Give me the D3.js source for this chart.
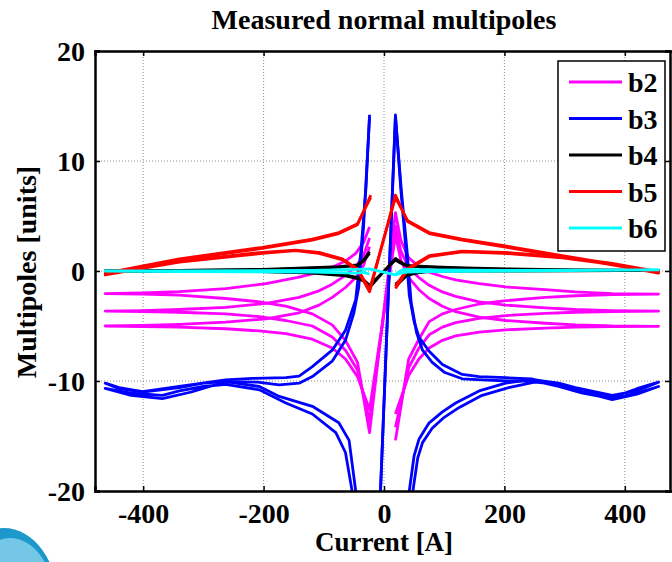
<!DOCTYPE html>
<html>
<head>
<meta charset="utf-8">
<script src="https://d3js.org/d3.v7.min.js"></script>
<style>
  body { margin: 0; background: #fff; }
  text { font-family: "Liberation Serif", "Times New Roman", serif; font-weight: bold; }
</style>
</head>
<body>
<div id="chart"></div>
<script>
// tick labels
var xTicks = [-400, -200, 0, 200, 400];
var yTicks = [-20, -10, 0, 10, 20];
var seriesNames = ["b2", "b3", "b4", "b5", "b6"];

// measured loops, [current A, multipole units]; each loop: up+, down+, up-, down-
var b2Loops = [
  [[19,-15.4],[41,-8.0],[58,-6.2],[75,-4.6],[97,-3.9],[119,-3.5],[158,-3.0],[202,-2.7],[268,-2.4],[318,-2.25],[379,-2.15],[456,-2.1],
   [379,-2.05],[318,-1.9],[268,-1.7],[202,-1.45],[158,-1.15],[119,-0.8],[97,-0.5],[75,-0.1],[58,0.4],[41,1.2],[28,2.8],[19,5.3],
   [-24,-14.7],[-44,-8.3],[-64,-6.3],[-86,-4.9],[-119,-3.9],[-163,-3.2],[-207,-2.8],[-263,-2.5],[-340,-2.2],[-401,-2.1],[-463,-2.06],
   [-401,-2.0],[-340,-1.88],[-263,-1.6],[-196,-1.15],[-141,-0.55],[-108,-0.1],[-86,0.35],[-64,0.9],[-47,1.6],[-34,2.6],[-24,4.0]],
  [[19,-14.2],[41,-8.8],[58,-7.0],[75,-5.8],[97,-5.1],[119,-4.7],[158,-4.3],[202,-4.05],[268,-3.85],[318,-3.75],[379,-3.68],[456,-3.65],
   [379,-3.6],[318,-3.5],[268,-3.35],[202,-3.1],[158,-2.8],[119,-2.3],[97,-1.9],[75,-1.3],[58,-0.6],[41,0.3],[28,1.8],[19,4.1],
   [-24,-13.6],[-44,-9.0],[-64,-7.2],[-86,-6.0],[-119,-5.0],[-163,-4.5],[-207,-4.15],[-263,-3.9],[-340,-3.75],[-401,-3.68],[-463,-3.64],
   [-401,-3.6],[-340,-3.5],[-263,-3.3],[-196,-2.95],[-141,-2.4],[-108,-1.8],[-86,-1.2],[-64,-0.4],[-47,0.4],[-34,1.4],[-24,3.0]],
  [[19,-13.0],[41,-9.5],[58,-8.0],[75,-7.0],[97,-6.3],[119,-5.9],[158,-5.55],[202,-5.35],[268,-5.2],[318,-5.1],[379,-5.05],[456,-5.03],
   [379,-5.0],[318,-4.9],[268,-4.75],[202,-4.5],[158,-4.2],[119,-3.7],[97,-3.2],[75,-2.5],[58,-1.7],[41,-0.6],[28,1.0],[19,3.2],
   [-24,-12.6],[-44,-9.6],[-64,-8.0],[-86,-7.0],[-119,-6.2],[-163,-5.7],[-207,-5.45],[-263,-5.25],[-340,-5.1],[-401,-5.05],[-463,-5.0],
   [-401,-4.95],[-340,-4.85],[-263,-4.65],[-196,-4.35],[-141,-3.8],[-108,-3.1],[-86,-2.4],[-64,-1.5],[-47,-0.6],[-34,0.5],[-24,2.2]]
];

var b3Loops = [
  [[19,-45],[42,-20],[50,-16.8],[58,-15.3],[75,-13.8],[97,-12.8],[119,-12.0],[158,-10.9],[202,-10.2],[245,-9.85],[290,-10.2],[318,-10.6],[379,-11.3],[420,-10.9],[456,-10.1],
   [420,-10.7],[379,-11.5],[318,-10.9],[290,-10.4],[245,-9.8],[202,-9.7],[158,-9.6],[130,-9.4],[97,-8.5],[75,-7.3],[58,-6.0],[50,-4.6],[42,-2.2],[36,2.2],[28,7.4],[19,14.2],
   [-24,-45],[-47,-20],[-58,-15.4],[-75,-13.8],[-119,-12.3],[-174,-11.4],[-207,-10.5],[-263,-10.06],[-300,-10.2],[-340,-10.6],[-401,-11.0],[-440,-10.7],[-463,-10.2],
   [-440,-10.6],[-401,-10.97],[-340,-10.5],[-263,-9.9],[-219,-9.76],[-163,-9.7],[-141,-9.55],[-119,-8.7],[-86,-7.2],[-64,-5.4],[-47,-2.6],[-38,2],[-30,7.5],[-24,14.2]],
  [[19,-45],[48,-20],[56,-17.0],[64,-15.6],[80,-14.3],[100,-13.3],[125,-12.4],[163,-11.3],[207,-10.6],[250,-10.1],[290,-10.3],[330,-11.0],[379,-11.7],[420,-11.2],[456,-10.5],
   [420,-11.1],[379,-11.6],[330,-11.1],[290,-10.5],[250,-10.0],[207,-10.0],[163,-9.9],[130,-9.8],[100,-9.2],[80,-8.3],[64,-7.2],[54,-5.6],[45,-2.8],[38,2.0],[29,7.2],[19,14.0],
   [-24,-45],[-53,-20],[-64,-16.5],[-80,-14.7],[-119,-13.0],[-163,-12.0],[-207,-10.8],[-263,-10.3],[-300,-10.5],[-340,-10.9],[-368,-11.3],[-420,-11.1],[-463,-10.67],
   [-420,-11.3],[-368,-11.6],[-320,-11.0],[-263,-10.06],[-210,-10.1],[-174,-10.35],[-141,-10.2],[-119,-9.6],[-86,-8.2],[-64,-6.3],[-50,-3.8],[-42,-1.5],[-34,4],[-24,14.0]]
];

var b4Loops = [
  [[19,-1.4],[38,-0.4],[58,-0.15],[75,-0.05],[119,0.0],[202,0.0],[318,0.02],[456,0.05],
   [318,0.1],[202,0.2],[119,0.3],[75,0.4],[38,0.5],[28,0.8],[19,1.15],
   [-24,-1.5],[-34,-0.9],[-44,-0.7],[-64,-0.45],[-119,-0.2],[-202,-0.05],[-340,0.0],[-463,0.0],
   [-340,0.05],[-202,0.15],[-119,0.3],[-75,0.4],[-44,0.55],[-34,1.0],[-24,1.75]],
  [[19,-1.2],[38,-0.3],[58,-0.1],[75,0.0],[119,0.05],[202,0.05],[318,0.05],[456,0.05],
   [318,0.08],[202,0.15],[119,0.25],[75,0.35],[38,0.45],[28,0.7],[19,1.0],
   [-24,-1.3],[-34,-0.8],[-44,-0.6],[-64,-0.35],[-119,-0.15],[-202,-0.05],[-340,0.0],[-463,0.0],
   [-340,0.05],[-202,0.1],[-119,0.25],[-75,0.35],[-44,0.5],[-34,0.9],[-24,1.6]]
];

var b5Loops = [
  [[19,-1.6],[39,0.1],[75,1.3],[130,1.75],[199,1.6],[296,1.2],[379,0.6],[456,-0.2],
   [379,0.55],[296,1.3],[199,2.2],[130,2.8],[75,3.4],[39,4.5],[19,6.9],
   [-24,-1.9],[-44,0.1],[-69,1.0],[-108,1.6],[-147,1.85],[-202,1.6],[-340,0.8],[-463,-0.36],
   [-340,1.0],[-202,2.06],[-119,2.8],[-75,3.4],[-44,4.2],[-22,6.9]],
  [[19,-1.4],[39,0.2],[75,1.4],[130,1.8],[199,1.7],[296,1.3],[379,0.7],[456,-0.05],
   [379,0.65],[296,1.4],[199,2.3],[130,2.9],[75,3.5],[39,4.6],[19,6.7],
   [-24,-1.7],[-44,0.2],[-69,1.1],[-108,1.7],[-147,1.9],[-202,1.7],[-340,0.9],[-463,-0.2],
   [-340,1.1],[-202,2.15],[-119,2.9],[-75,3.5],[-44,4.3],[-22,6.7]]
];

var b6Loops = [
  [[19,-0.3],[30,0.1],[39,0.15],[75,0.1],[202,0.05],[456,0.1],
   [202,0.0],[75,-0.05],[39,-0.1],[28,-0.2],[19,-0.35],
   [-24,0.2],[-44,0.15],[-119,0.05],[-340,0.0],[-463,0.0],
   [-340,-0.05],[-119,-0.1],[-44,-0.2],[-34,-0.1],[-24,-0.3]]
];

var allLoops = [b2Loops, b3Loops, b4Loops, b5Loops, b6Loops];

// drawing styles
var colors = ["#ff00ff", "#0000ff", "#000000", "#ff0000", "#00ffff"];

var svgWidth = 672;
var svgHeight = 562;
var plot = { left: 95, right: 673, top: 51, bottom: 491 };

var svg = d3.select("#chart")
    .append("svg")
    .attr("width", svgWidth)
    .attr("height", svgHeight);

// logo fragment in the corner
svg.append("ellipse")
    .attr("cx", 4).attr("cy", 602).attr("rx", 54).attr("ry", 74)
    .attr("fill", "#1c98cc");
svg.append("ellipse")
    .attr("cx", 10).attr("cy", 608).attr("rx", 46).attr("ry", 70)
    .attr("fill", "#74c7e6");

var xScale = d3.scaleLinear().domain([-480, 480]).range([plot.left, plot.right]);
var yScale = d3.scaleLinear().domain([-20, 20]).range([plot.bottom, plot.top]);

// grid
var grid = svg.append("g");
grid.selectAll("line.gx")
    .data(xTicks)
    .enter()
    .append("line")
    .attr("x1", d => xScale(d)).attr("x2", d => xScale(d))
    .attr("y1", plot.top).attr("y2", plot.bottom)
    .attr("stroke", "#8c8c8c").attr("stroke-width", 1).attr("stroke-dasharray", "1,2");
grid.selectAll("line.gy")
    .data(yTicks.slice(1, -1))
    .enter()
    .append("line")
    .attr("y1", d => yScale(d)).attr("y2", d => yScale(d))
    .attr("x1", plot.left).attr("x2", plot.right)
    .attr("stroke", "#8c8c8c").attr("stroke-width", 1).attr("stroke-dasharray", "1,2");

svg.append("clipPath").attr("id", "clip")
    .append("rect")
    .attr("x", plot.left).attr("y", plot.top)
    .attr("width", plot.right - plot.left).attr("height", plot.bottom - plot.top);

var line = d3.line()
    .x(d => xScale(d[0]))
    .y(d => yScale(d[1]));

var dataGroup = svg.append("g").attr("clip-path", "url(#clip)");
allLoops.forEach(function (loops, i) {
    dataGroup.selectAll(null)
        .data(loops)
        .enter()
        .append("path")
        .attr("d", line)
        .attr("fill", "none")
        .attr("stroke", colors[i])
        .attr("stroke-width", 2.8)
        .attr("stroke-linejoin", "round");
});

// axes with inward ticks on every side
var bottomAxis = d3.axisBottom(xScale).tickValues(xTicks).tickSize(-5).tickPadding(12);
var topAxis = d3.axisTop(xScale).tickValues(xTicks).tickSize(-5).tickFormat("");
var leftAxis = d3.axisLeft(yScale).tickValues(yTicks).tickSize(-5).tickPadding(10);
var rightAxis = d3.axisRight(yScale).tickValues(yTicks).tickSize(-5).tickFormat("");

var xAxisG = svg.append("g").attr("transform", `translate(0, ${plot.bottom})`).call(bottomAxis);
svg.append("g").attr("transform", `translate(0, ${plot.top})`).call(topAxis);
var yAxisG = svg.append("g").attr("transform", `translate(${plot.left}, 0)`).call(leftAxis);
svg.append("g").attr("transform", `translate(${plot.right - 3}, 0)`).call(rightAxis);

svg.selectAll(".domain").attr("stroke", "#000").attr("stroke-width", 2.5);
svg.selectAll(".tick line").attr("stroke", "#000").attr("stroke-width", 1.5);
xAxisG.selectAll("text")
    .attr("font-size", 28).attr("fill", "#000")
    .attr("font-family", "Liberation Serif, Times New Roman, serif")
    .attr("font-weight", "bold")
    .attr("dy", "0.7em")
    .text(d => d < 0 ? "-" + Math.abs(d) : d);
yAxisG.selectAll("text")
    .attr("font-size", 28).attr("fill", "#000")
    .attr("font-family", "Liberation Serif, Times New Roman, serif")
    .attr("font-weight", "bold")
    .attr("dy", "0.34em")
    .text(d => d < 0 ? "-" + Math.abs(d) : d);

// title and axis labels
svg.append("text")
    .attr("x", 384).attr("y", 29)
    .attr("text-anchor", "middle")
    .attr("font-size", 28)
    .text("Measured normal multipoles");

svg.append("text")
    .attr("x", 384).attr("y", 551)
    .attr("text-anchor", "middle")
    .attr("font-size", 27)
    .text("Current [A]");

svg.append("text")
    .attr("transform", "translate(36, 272) rotate(-90)")
    .attr("text-anchor", "middle")
    .attr("font-size", 28)
    .text("Multipoles [units]");

// legend
var legend = svg.append("g");
legend.append("rect")
    .attr("x", 558).attr("y", 61).attr("width", 107).attr("height", 190)
    .attr("fill", "#fff").attr("stroke", "#000").attr("stroke-width", 1.5);

var legendY = d3.scalePoint().domain(seriesNames).range([82, 228]);
var items = legend.selectAll("g.item")
    .data(seriesNames)
    .enter()
    .append("g")
    .attr("transform", d => `translate(0, ${legendY(d)})`);
items.append("line")
    .attr("x1", 569).attr("x2", 622)
    .attr("stroke", (d, i) => colors[i])
    .attr("stroke-width", 3);
items.append("text")
    .attr("x", 628).attr("y", 10)
    .attr("font-size", 28)
    .text(d => d);
</script>
</body>
</html>
